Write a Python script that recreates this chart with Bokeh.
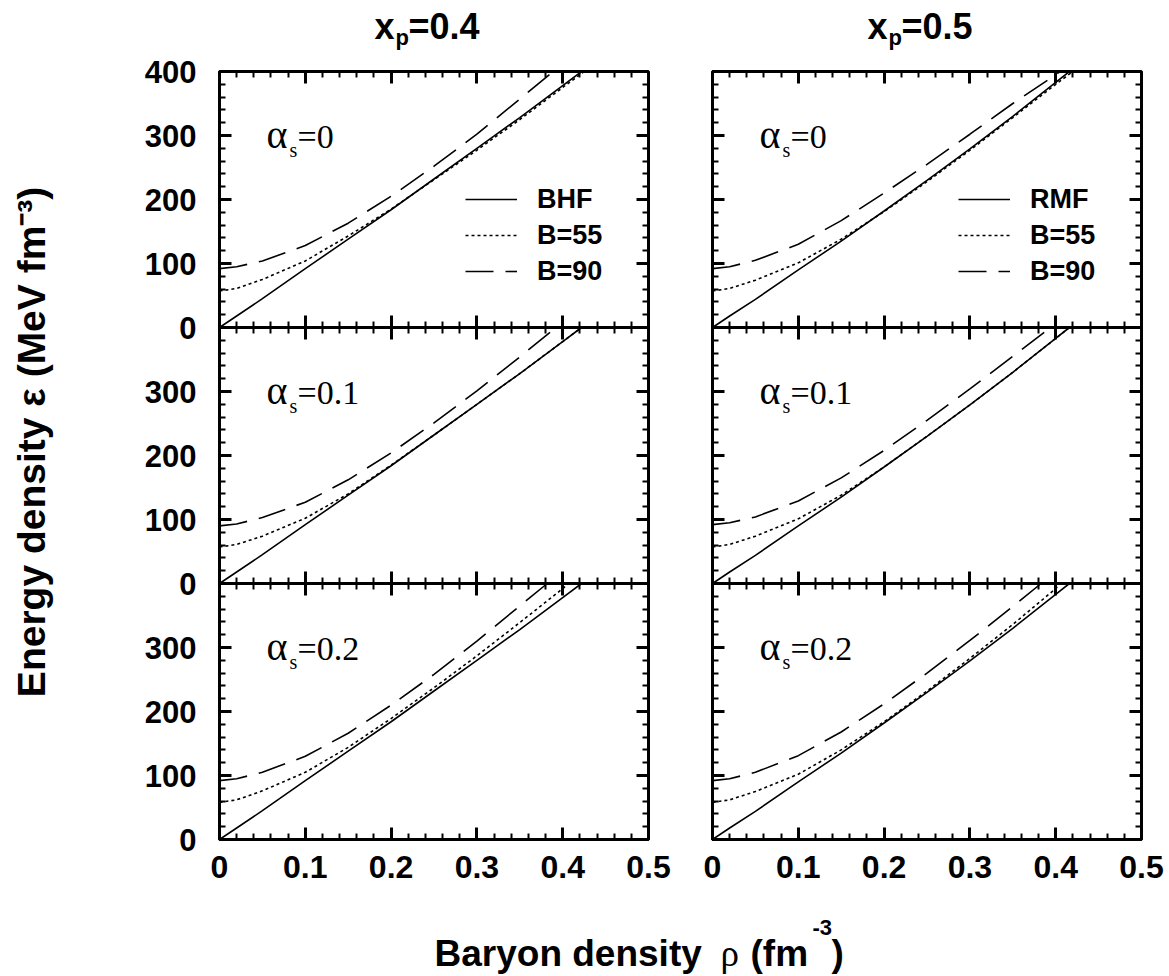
import math
from bokeh.plotting import figure
from bokeh.models import (Range1d, LinearAxis, FixedTicker, Label, Legend, LegendItem,
                          CustomJSTickFormatter)
from bokeh.layouts import row, column
from bokeh.embed import file_html
from bokeh.resources import INLINE

# ---------------- data ----------------
x_major = [0.0, 0.1, 0.2, 0.3, 0.4, 0.5]
x_minor = [0.02, 0.04, 0.06, 0.08, 0.12, 0.14, 0.16, 0.18, 0.22, 0.24, 0.26, 0.28,
           0.32, 0.34, 0.36, 0.38, 0.42, 0.44, 0.46, 0.48]
x_tick_labels = ["0", "0.1", "0.2", "0.3", "0.4", "0.5"]

y_major = [0, 100, 200, 300, 400, 500, 600, 700, 800, 900, 1000, 1100, 1200]
y_minor = [v for v in range(0, 1201, 20) if v % 100 != 0]
y_tick_labels = ["0", "100", "200", "300", "0", "100", "200", "300",
                 "0", "100", "200", "300", "400"]

column_titles = ["0.4", "0.5"]
alpha_values = ["0", "0.1", "0.2"]
legend_left = ["BHF", "B=55", "B=90"]
legend_right = ["RMF", "B=55", "B=90"]

rho = [0, 0.02, 0.05, 0.10, 0.15, 0.20, 0.25, 0.30, 0.35, 0.40]
rho35 = [0, 0.02, 0.05, 0.10, 0.15, 0.20, 0.25, 0.30, 0.35]

# x_p = 0.4 (BHF)
bhf_a0_rho_h = rho + [0.422]
bhf_a0_eps_h = [0, 18, 45, 92, 138, 184, 232, 280, 328, 378, 400]
bhf_a0_rho_55 = rho + [0.425]
bhf_a0_eps_55 = [57, 61, 75, 104, 143, 185, 231, 277, 325, 375, 400]
bhf_a0_rho_90 = rho35 + [0.389]
bhf_a0_eps_90 = [92, 95, 104, 128, 163, 205, 252, 302, 357, 400]

bhf_a1_rho_h = rho + [0.422]
bhf_a1_eps_h = [0, 18, 45, 92, 138, 184, 232, 280, 328, 378, 400]
bhf_a1_rho_55 = rho + [0.422]
bhf_a1_eps_55 = [57, 61, 74, 102, 140, 185, 232, 280, 328, 378, 400]
bhf_a1_rho_90 = rho35 + [0.392]
bhf_a1_eps_90 = [90, 93, 103, 127, 162, 204, 251, 301, 354, 400]

bhf_a2_rho_h = rho + [0.422]
bhf_a2_eps_h = [0, 18, 45, 92, 138, 184, 232, 280, 328, 378, 400]
bhf_a2_rho_55 = rho + [0.407]
bhf_a2_eps_55 = [58, 62, 76, 105, 144, 189, 237, 287, 339, 392, 400]
bhf_a2_rho_90 = rho35 + [0.382]
bhf_a2_eps_90 = [92, 95, 105, 130, 166, 210, 258, 310, 365, 400]

# x_p = 0.5 (RMF)
rmf_a0_rho_h = rho + [0.416]
rmf_a0_eps_h = [0, 18, 44, 90, 135, 182, 230, 279, 330, 383, 400]
rmf_a0_rho_55 = rho + [0.420]
rmf_a0_eps_55 = [57, 61, 74, 101, 138, 181, 228, 277, 328, 380, 400]
rmf_a0_rho_90 = rho + [0.405]
rmf_a0_eps_90 = [92, 95, 105, 130, 167, 210, 255, 302, 350, 395, 400]

rmf_a1_rho_h = rho + [0.416]
rmf_a1_eps_h = [0, 18, 44, 90, 135, 182, 230, 279, 330, 383, 400]
rmf_a1_rho_55 = rho + [0.416]
rmf_a1_eps_55 = [57, 61, 74, 101, 138, 182, 230, 279, 330, 383, 400]
rmf_a1_rho_90 = rho35 + [0.394]
rmf_a1_eps_90 = [92, 95, 104, 129, 165, 208, 255, 304, 355, 400]

rmf_a2_rho_h = rho + [0.416]
rmf_a2_eps_h = [0, 18, 44, 90, 135, 182, 230, 279, 330, 383, 400]
rmf_a2_rho_55 = rho + [0.405]
rmf_a2_eps_55 = [58, 62, 75, 102, 140, 184, 232, 283, 336, 392, 400]
rmf_a2_rho_90 = rho35 + [0.383]
rmf_a2_eps_90 = [92, 95, 105, 131, 168, 212, 260, 311, 364, 400]

bhf_curves = [
    [(bhf_a0_rho_h, bhf_a0_eps_h), (bhf_a0_rho_55, bhf_a0_eps_55), (bhf_a0_rho_90, bhf_a0_eps_90)],
    [(bhf_a1_rho_h, bhf_a1_eps_h), (bhf_a1_rho_55, bhf_a1_eps_55), (bhf_a1_rho_90, bhf_a1_eps_90)],
    [(bhf_a2_rho_h, bhf_a2_eps_h), (bhf_a2_rho_55, bhf_a2_eps_55), (bhf_a2_rho_90, bhf_a2_eps_90)],
]
rmf_curves = [
    [(rmf_a0_rho_h, rmf_a0_eps_h), (rmf_a0_rho_55, rmf_a0_eps_55), (rmf_a0_rho_90, rmf_a0_eps_90)],
    [(rmf_a1_rho_h, rmf_a1_eps_h), (rmf_a1_rho_55, rmf_a1_eps_55), (rmf_a1_rho_90, rmf_a1_eps_90)],
    [(rmf_a2_rho_h, rmf_a2_eps_h), (rmf_a2_rho_55, rmf_a2_eps_55), (rmf_a2_rho_90, rmf_a2_eps_90)],
]

y_title = "Energy density ε (MeV fm⁻³)"

# ---------------- styling ----------------
SANS = "Liberation Sans"
SERIF = "Liberation Serif"
DASHES = ["solid", "3 3", "28 12"]
MID = 0.35          # distance (in em) from baseline to the 'middle' anchor
FH = 768
FW = 429
TOP_H = 51
LEFT_W = 90
BORDER_TOP = 20
BORDER_BOTTOM = 60
PANEL_H = BORDER_TOP + FH + BORDER_BOTTOM
BOTTOM_H = 75
L_LEFT, L_RIGHT = 129, 30
R_LEFT, R_RIGHT = 34, 25

x_lab = {f"{t:.1f}": s for t, s in zip(x_major, x_tick_labels)}
y_lab = {str(t): s for t, s in zip(y_major, y_tick_labels)}


def fmt_x():
    return CustomJSTickFormatter(args=dict(lab=x_lab), code="return lab[tick.toFixed(1)] || '';")


def fmt_y():
    return CustomJSTickFormatter(args=dict(lab=y_lab), code="return lab[String(Math.round(tick))] || '';")


def fmt_blank():
    return CustomJSTickFormatter(code="return '';")


def style_axis(ax, tin, tout, mtin, mtout):
    ax.axis_line_width = 3
    ax.axis_line_color = "black"
    ax.major_tick_in = tin
    ax.major_tick_out = tout
    ax.minor_tick_in = mtin
    ax.minor_tick_out = mtout
    ax.major_tick_line_width = 3
    ax.minor_tick_line_width = 2
    ax.major_tick_line_color = "black"
    ax.minor_tick_line_color = "black"
    ax.major_label_text_color = "black"
    return ax


def build_column(curves, leg_labels, show_ylabels, left_border, right_border):
    p = figure(frame_width=FW, frame_height=FH,
               x_range=Range1d(0, 0.5), y_range=Range1d(0, 1200),
               x_axis_type=None, y_axis_type=None,
               min_border_left=left_border, min_border_right=right_border,
               min_border_top=BORDER_TOP, min_border_bottom=BORDER_BOTTOM,
               toolbar_location=None, output_backend="svg")
    p.outline_line_color = "black"
    p.outline_line_width = 3
    p.background_fill_color = "white"
    p.border_fill_color = "white"
    p.extra_y_ranges = {"r1": Range1d(-800, 400), "r2": Range1d(-400, 800), "r3": Range1d(0, 1200)}

    xt = FixedTicker(ticks=x_major, minor_ticks=x_minor)
    yt = FixedTicker(ticks=y_major, minor_ticks=y_minor)

    bx = style_axis(LinearAxis(ticker=xt, formatter=fmt_x()), 12, 0, 6, 0)
    bx.major_label_text_font = SANS
    bx.major_label_text_font_style = "bold"
    bx.major_label_text_font_size = "32px"
    bx.major_label_standoff = 16
    p.add_layout(bx, "below")
    tx = style_axis(LinearAxis(ticker=xt, formatter=fmt_blank(), fixed_location=1200), 12, 0, 6, 0)
    p.add_layout(tx, "above")
    for loc in (400, 800):
        ix = style_axis(LinearAxis(ticker=xt, formatter=fmt_blank(), fixed_location=loc), 12, 12, 6, 6)
        p.add_layout(ix, "below")
    ly = style_axis(LinearAxis(ticker=yt, formatter=fmt_y() if show_ylabels else fmt_blank()),
                    12, 0, 6, 0)
    ly.major_label_text_font = SANS
    ly.major_label_text_font_style = "bold"
    ly.major_label_text_font_size = "31px"
    ly.major_label_standoff = 23
    p.add_layout(ly, "left")
    ry = style_axis(LinearAxis(ticker=yt, formatter=fmt_blank(), fixed_location=0.5), 12, 0, 6, 0)
    p.add_layout(ry, "right")

    first_row = []
    for k, rname in enumerate(["r1", "r2", "r3"]):
        rends = []
        for (xs, ys), dash in zip(curves[k], DASHES):
            r = p.line(xs, ys, y_range_name=rname, line_color="black", line_width=1.6,
                       line_dash=dash)
            rends.append(r)
        if k == 0:
            first_row = rends
        base = dict(x=0, y=400, x_units="data", y_units="data", y_range_name=rname,
                    text_font=SERIF, text_color="black", text_baseline="middle")
        p.add_layout(Label(text="α", x_offset=47, y_offset=-77 + MID * 40,
                           text_font_size="40px", **base))
        p.add_layout(Label(text="s", x_offset=70, y_offset=-85 + MID * 20,
                           text_font_size="20px", **base))
        p.add_layout(Label(text="=" + alpha_values[k], x_offset=78, y_offset=-77 + MID * 34,
                           text_font_size="34px", **base))

    legend = Legend(items=[LegendItem(label=lab, renderers=[r]) for lab, r in zip(leg_labels, first_row)],
                    location=(246, 550), padding=0, spacing=0, margin=0,
                    glyph_width=52, glyph_height=36, label_height=36, label_standoff=20,
                    label_text_font=SANS, label_text_font_style="bold", label_text_font_size="27px",
                    label_text_color="black",
                    background_fill_alpha=0, border_line_alpha=0)
    p.add_layout(legend)
    return p


def strip_fig(w, h):
    s = figure(width=w, height=h, x_range=Range1d(0, w), y_range=Range1d(0, h),
               x_axis_type=None, y_axis_type=None, min_border=0,
               toolbar_location=None, output_backend="svg")
    s.outline_line_color = None
    s.xgrid.visible = False
    s.ygrid.visible = False
    s.background_fill_color = "white"
    s.border_fill_color = "white"
    return s


def htext(fig, text, x, base_y, size, font=SANS, bold=True):
    fig.add_layout(Label(text=text, x=x, y=base_y + MID * size, x_units="data", y_units="data",
                         text_font=font, text_font_style="bold" if bold else "normal",
                         text_font_size=f"{size}px", text_color="black",
                         text_align="left", text_baseline="middle"))


p_left = build_column(bhf_curves, legend_left, True, L_LEFT, L_RIGHT)
p_right = build_column(rmf_curves, legend_right, False, R_LEFT, R_RIGHT)
TOTAL_W = LEFT_W + L_LEFT + FW + L_RIGHT + R_LEFT + FW + R_RIGHT

# ---- top strip: column titles x_p = ...   (screen y -> data y = TOP_H - screen)
top = strip_fig(TOTAL_W, TOP_H)
for x0, val in zip([374, 867], column_titles):
    htext(top, "x", x0, TOP_H - 39, 36)
    htext(top, "p", x0 + 21, TOP_H - 45, 22)
    htext(top, "=" + val, x0 + 34, TOP_H - 39, 36)

# ---- left strip: rotated y title, centred on the middle row
left = strip_fig(LEFT_W, PANEL_H)
Y_BOTTOM = TOP_H + PANEL_H
F = 39
left.add_layout(Label(text=y_title, x=45 - MID * F, y=Y_BOTTOM - 460, x_units="data", y_units="data",
                      angle=math.pi / 2, text_font=SANS, text_font_style="bold",
                      text_font_size=f"{F}px", text_color="black",
                      text_align="center", text_baseline="middle"))

# ---- bottom strip: x title (screen y -> data y = B_BOTTOM - screen)
bottom = strip_fig(TOTAL_W, BOTTOM_H)
B_BOTTOM = TOP_H + PANEL_H + BOTTOM_H
htext(bottom, "Baryon density", 434, B_BOTTOM - 966, 37)
htext(bottom, "ρ", 720, B_BOTTOM - 966, 37, font=SERIF, bold=False)
htext(bottom, "(fm", 750, B_BOTTOM - 966, 37)
htext(bottom, "-3", 812, B_BOTTOM - 935, 22)
htext(bottom, ")", 831, B_BOTTOM - 966, 37)

layout = column(top, row(left, p_left, p_right, spacing=0), bottom, spacing=0)

with open("out.html", "w") as f:
    f.write(file_html(layout, INLINE))
